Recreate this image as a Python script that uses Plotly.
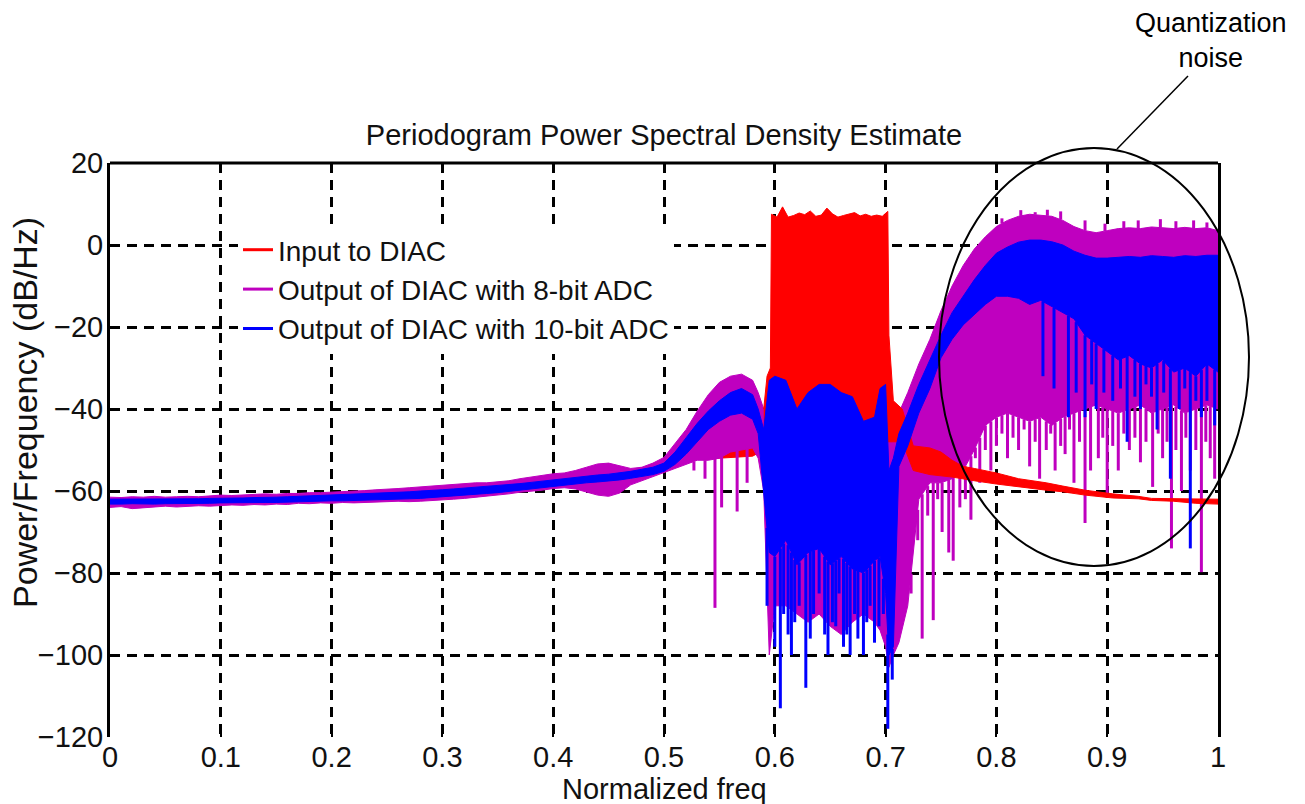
import numpy as np
import plotly.graph_objects as go

# ---------------- data ----------------
x_ticks = [0.0, 0.1, 0.2, 0.3, 0.4, 0.5, 0.6, 0.7, 0.8, 0.9, 1.0]
x_tick_labels = ["0", "0.1", "0.2", "0.3", "0.4", "0.5", "0.6", "0.7", "0.8", "0.9", "1"]
y_ticks = [20, 0, -20, -40, -60, -80, -100, -120]

# frequency grid shared by the two ADC outputs
freq_adc = [0.00, 0.01, 0.02, 0.03, 0.04, 0.05, 0.06, 0.07, 0.08, 0.09,
            0.10, 0.11, 0.12, 0.13, 0.14, 0.15, 0.16, 0.17, 0.18, 0.19,
            0.20, 0.21, 0.22, 0.23, 0.24, 0.25, 0.26, 0.27, 0.28, 0.29,
            0.30, 0.31, 0.32, 0.33, 0.34, 0.35, 0.36, 0.37, 0.38, 0.39,
            0.40, 0.41, 0.42, 0.43, 0.44, 0.45, 0.46, 0.47, 0.48, 0.49,
            0.50, 0.51, 0.52, 0.53, 0.54, 0.55, 0.56, 0.57, 0.58,
            0.585, 0.59, 0.595,
            0.60, 0.61, 0.62, 0.63, 0.64, 0.65, 0.66, 0.67, 0.68, 0.69,
            0.695, 0.70, 0.703, 0.707, 0.712,
            0.72, 0.73, 0.74, 0.75, 0.76, 0.77, 0.78, 0.79,
            0.80, 0.81, 0.82, 0.83, 0.84, 0.85, 0.86, 0.87, 0.88, 0.89,
            0.90, 0.91, 0.92, 0.93, 0.94, 0.95, 0.96, 0.97, 0.98, 0.99, 1.00]

# Output of DIAC with 10-bit ADC (blue): upper / lower envelope, dB/Hz
adc10_upper = [-62.0, -62.0, -62.0, -61.9, -62.0, -61.9, -61.9, -61.9, -61.9, -61.8,
               -61.8, -61.7, -61.7, -61.6, -61.6, -61.5, -61.4, -61.3, -61.2, -61.1,
               -61.0, -60.9, -60.8, -60.6, -60.5, -60.4, -60.3, -60.2, -60.0, -59.9,
               -59.7, -59.5, -59.3, -59.1, -58.9, -58.7, -58.5, -58.2, -57.9, -57.6,
               -57.2, -56.9, -56.6, -56.3, -56.1, -55.9, -55.6, -55.2, -54.7, -54.2,
               -53.2, -50.5, -47.0, -43.5, -40.5, -38.0, -36.0, -35.0, -36.5,
               -40.0, -45.0, -33.0,
               -32.0, -33.0, -40.0, -36.0, -34.0, -34.0, -36.0, -37.0, -43.0, -42.0,
               -35.0, -34.0, -55.0, -52.0, -46.0,
               -41.0, -34.0, -28.0, -22.0, -16.5, -12.5, -8.5, -5.0,
               -2.0, -0.5, 0.7, 1.2, 1.2, 0.8, 0.0, -1.5, -2.5, -3.2,
               -3.2, -3.0, -2.8, -3.0, -2.6, -2.8, -3.0, -2.6, -2.8, -2.5, -2.5]
adc10_lower = [-63.2, -63.2, -63.1, -63.1, -63.2, -63.1, -63.0, -63.1, -63.0, -63.0,
               -62.9, -62.9, -62.9, -62.8, -62.8, -62.8, -62.7, -62.6, -62.6, -62.5,
               -62.4, -62.4, -62.3, -62.2, -62.1, -62.0, -62.0, -61.9, -61.8, -61.7,
               -61.5, -61.2, -61.0, -60.8, -60.6, -60.4, -60.2, -59.9, -59.6, -59.3,
               -58.9, -58.6, -58.3, -58.0, -57.8, -57.6, -57.3, -56.9, -56.5, -56.0,
               -55.2, -53.5, -51.0, -48.0, -45.0, -43.0, -41.5, -41.0, -42.5,
               -46.0, -60.0, -75.0,
               -76.0, -72.0, -78.0, -75.0, -74.0, -78.0, -76.0, -79.0, -80.0, -77.0,
               -76.0, -85.0, -100.0, -98.0, -54.0,
               -49.0, -41.0, -35.0, -27.5, -23.0, -19.5, -17.0, -14.5,
               -12.5, -12.5, -13.0, -14.5, -13.5, -15.0, -16.5, -18.0, -22.0, -24.0,
               -26.0, -28.0, -27.0, -29.0, -30.0, -28.0, -31.0, -30.0, -32.0, -29.0, -31.0]

# Output of DIAC with 8-bit ADC (magenta): upper / lower envelope, dB/Hz
adc8_upper = [-61.5, -61.6, -61.4, -61.5, -61.3, -61.5, -61.4, -61.3, -61.4, -61.2,
              -61.0, -61.1, -61.0, -60.8, -60.7, -60.8, -60.6, -60.6, -60.4, -60.4,
              -60.3, -60.2, -60.0, -59.9, -59.7, -59.6, -59.4, -59.2, -59.0, -58.8,
              -58.6, -58.3, -58.2, -58.0, -58.0, -57.8, -57.5, -57.0, -56.6, -56.2,
              -55.8, -55.6, -55.0, -54.2, -53.4, -53.2, -53.8, -54.5, -54.2, -53.2,
              -51.8, -48.5, -45.0, -40.5, -36.5, -33.5, -32.0, -31.5, -33.0,
              -36.0, -40.0, -46.0,
              -48.0, -47.0, -46.0, -48.0, -50.0, -50.0, -49.0, -47.0, -46.0, -48.0,
              -47.0, -45.0, -47.0, -44.0, -41.0,
              -36.0, -29.0, -23.0, -16.0, -10.0, -5.0, -1.0, 2.0,
              4.5, 6.0, 7.0, 7.5, 7.3, 7.0, 6.0, 4.5, 3.5, 3.0,
              3.5, 4.0, 4.2, 4.0, 4.4, 4.2, 4.0, 4.3, 4.0, 4.2, 3.5]
adc8_lower = [-64.0, -63.8, -64.3, -64.0, -63.9, -63.7, -63.9, -63.8, -63.6, -63.7,
              -63.6, -63.4, -63.5, -63.3, -63.4, -63.2, -63.3, -63.0, -63.1, -62.9,
              -63.0, -62.8, -62.9, -62.7, -62.7, -62.6, -62.5, -62.6, -62.5, -62.4,
              -62.2, -62.0, -61.8, -61.5, -61.2, -61.0, -60.7, -60.3, -60.0, -59.8,
              -59.4, -59.2, -59.5, -60.2, -61.0, -61.3, -60.5, -58.5, -57.5, -56.5,
              -55.6, -54.5, -53.5, -52.5, -52.5, -52.0, -50.5, -50.0, -49.5,
              -52.0, -60.0, -100.0,
              -88.0, -88.0, -90.0, -92.0, -90.0, -93.0, -95.0, -92.0, -90.0, -92.0,
              -94.0, -98.0, -103.0, -100.0, -97.0,
              -88.0, -62.0, -58.0, -58.0, -57.0, -55.0, -50.0, -44.0,
              -42.0, -41.0, -42.0, -43.0, -42.0, -44.0, -42.0, -41.0, -40.0, -39.0,
              -40.0, -41.0, -40.0, -39.0, -41.0, -40.0, -39.0, -41.0, -40.0, -39.0, -40.0]

# Input to DIAC (red)
freq_in = [0.00, 0.10, 0.20, 0.30, 0.35, 0.38, 0.39, 0.40, 0.45, 0.47,
           0.48, 0.49, 0.50, 0.52, 0.55, 0.58, 0.59, 0.593, 0.596,
           0.597, 0.602, 0.607, 0.612, 0.617, 0.622, 0.627, 0.632, 0.637, 0.642,
           0.647, 0.652, 0.657, 0.662, 0.667, 0.672, 0.677, 0.682, 0.687, 0.692,
           0.697, 0.702,
           0.703, 0.707, 0.715, 0.725, 0.74, 0.75, 0.76, 0.77, 0.78, 0.80,
           0.82, 0.845, 0.86, 0.88, 0.905, 0.928, 0.94, 0.96, 0.98, 1.00]
input_upper = [-62.2, -61.9, -61.1, -59.9, -58.8, -58.0, -56.8, -57.6, -56.2, -55.4,
               -54.3, -54.6, -52.5, -50.5, -49.3, -49.0, -40.0, -32.0, -30.0,
               7.5, 6.8, 9.3, 6.8, 7.2, 7.8, 7.4, 8.3, 7.0, 7.3,
               9.0, 7.6, 6.8, 7.2, 7.6, 7.9, 7.1, 7.5, 7.0, 7.3,
               7.0, 8.2,
               -22.0, -38.0, -40.0, -49.0, -49.5, -50.5, -52.5, -54.0, -54.5, -55.6,
               -57.0, -58.0, -58.8, -59.8, -60.7, -61.3, -61.8, -61.9, -62.0, -62.0]
input_lower = [-63.0, -62.7, -62.0, -60.7, -59.6, -58.8, -58.2, -58.4, -57.0, -56.2,
               -55.4, -55.6, -53.6, -52.0, -52.0, -51.5, -50.0, -49.0, -48.0,
               -46.0, -44.0, -45.0, -47.0, -44.0, -45.0, -46.0, -44.0, -47.0, -45.0,
               -44.0, -46.0, -45.0, -47.0, -44.0, -46.0, -45.0, -47.0, -44.0, -46.0,
               -45.0, -48.0,
               -48.0, -48.0, -48.0, -55.0, -56.0, -56.3, -56.6, -57.0, -57.5, -58.3,
               -59.0, -59.8, -60.2, -61.0, -61.7, -61.9, -62.3, -62.5, -63.0, -63.2]

# isolated deep dips (spikes) below the envelopes
adc10_dip_freq = [0.593, 0.600, 0.605, 0.608, 0.612, 0.615, 0.618, 0.622, 0.628, 0.632,
                  0.635, 0.640, 0.645, 0.648, 0.652, 0.655, 0.658, 0.662, 0.665, 0.668,
                  0.672, 0.675, 0.680, 0.683, 0.686, 0.690, 0.694, 0.698, 0.702, 0.706,
                  0.842, 0.852, 0.865, 0.872, 0.880, 0.886, 0.890, 0.897, 0.905, 0.912,
                  0.918, 0.925, 0.930, 0.935, 0.940, 0.945, 0.951, 0.957, 0.965, 0.970,
                  0.975, 0.980, 0.985, 0.990, 0.997]
adc10_dip_db = [-88, -98, -113, -90, -95, -100, -92, -88, -108, -96,
                -90, -85, -95, -100, -92, -93, -85, -98, -95, -100,
                -90, -96, -100, -92, -88, -97, -93, -90, -118, -106,
                -32, -35, -42, -36, -42, -34, -40, -36, -38, -35,
                -48, -37, -40, -34, -37, -45, -36, -57, -40, -35,
                -74, -38, -42, -38, -44]

adc8_dip_freq = [0.527, 0.537, 0.546, 0.552, 0.566, 0.575, 0.723, 0.729, 0.733, 0.738,
                 0.743, 0.747, 0.751, 0.757, 0.761, 0.767, 0.772, 0.777, 0.781, 0.785,
                 0.790, 0.795, 0.800, 0.805, 0.810, 0.815, 0.820, 0.825, 0.830, 0.835,
                 0.839, 0.845, 0.849, 0.853, 0.858, 0.862, 0.866, 0.870, 0.875, 0.880,
                 0.885, 0.892, 0.896, 0.900, 0.905, 0.910, 0.915, 0.920, 0.925, 0.930,
                 0.935, 0.941, 0.946, 0.950, 0.954, 0.958, 0.962, 0.967, 0.971, 0.975,
                 0.980, 0.985, 0.989, 0.993, 0.997]
adc8_dip_db = [-55, -57, -88.5, -64, -65, -58, -85, -72, -96, -66,
               -91.5, -62, -70, -75, -77, -64, -62, -67, -52, -58,
               -50, -55, -49, -46, -52, -47, -50, -45, -54, -48,
               -57, -50, -46, -55, -49, -51, -45, -58, -48, -67.8,
               -55, -52, -47, -61.7, -49, -55, -46, -50, -47, -53,
               -48, -59, -46, -52, -48, -74, -50, -60, -47, -55,
               -50, -79.8, -48, -52, -57]

adc8_peak_freq = [0.805, 0.822, 0.835, 0.846, 0.858, 0.880, 0.898, 0.915, 0.928, 0.948,
                  0.962, 0.978, 0.990]
adc8_peak_db = [6.5, 8.5, 8.0, 8.6, 8.2, 6.0, 5.2, 5.8, 6.0, 6.3, 5.8, 6.0, 5.5]

series_names = ["Input to DIAC", "Output of DIAC with 8-bit ADC", "Output of DIAC with 10-bit ADC"]

# ---------------- styling ----------------
RED = "#FF0000"
MAG = "#BF00BF"
BLUE = "#0000FF"
FONT = "Liberation Sans, Arial, sans-serif"
TXT = "#111111"


def band(freq, upper, lower, color):
    xs = list(freq) + list(freq)[::-1]
    ys = list(upper) + list(lower)[::-1]
    return go.Scatter(x=xs, y=ys, mode="lines", fill="toself", fillcolor=color,
                      line=dict(color=color, width=1), showlegend=False,
                      hoverinfo="skip")


def spikes(freq, env_freq, env, tips, color, width):
    base = np.interp(freq, env_freq, env)
    xs, ys = [], []
    for f, b, t in zip(freq, base, tips):
        xs += [f, f, None]
        ys += [float(b), t, None]
    return go.Scatter(x=xs, y=ys, mode="lines", line=dict(color=color, width=width),
                      showlegend=False, hoverinfo="skip")


# the low-level part of the input (below 0.59) lies underneath the ADC outputs
split = next(i for i, f in enumerate(freq_in) if f >= 0.59) + 1

fig = go.Figure()
fig.add_trace(band(freq_in[:split], input_upper[:split], input_lower[:split], RED))
fig.add_trace(band(freq_adc, adc8_upper, adc8_lower, MAG))
fig.add_trace(spikes(adc8_dip_freq, freq_adc, adc8_lower, adc8_dip_db, MAG, 3))
fig.add_trace(spikes(adc8_peak_freq, freq_adc, adc8_upper, adc8_peak_db, MAG, 3))
fig.add_trace(band(freq_in[split - 1:], input_upper[split - 1:], input_lower[split - 1:], RED))
fig.add_trace(band(freq_adc, adc10_upper, adc10_lower, BLUE))
fig.add_trace(spikes(adc10_dip_freq, freq_adc, adc10_lower, adc10_dip_db, BLUE, 3))

for name, color in zip(series_names, [RED, MAG, BLUE]):
    fig.add_trace(go.Scatter(x=[None], y=[None], mode="lines", name=name,
                             line=dict(color=color, width=3)))

# plot area in pixels: left 110, right 1218, top 163, bottom 737
L, R, T, B = 110, 1218, 163, 737
W, H = R - L, B - T


def px(xp):
    return (xp - L) / W


def py(yp):
    return (B - yp) / H


axis_common = dict(showgrid=True, gridcolor="black", gridwidth=2.5, griddash="10px,7px",
                   zeroline=False, ticks="inside", ticklen=8, tickwidth=2,
                   tickcolor="black", tickfont=dict(family=FONT, size=29, color=TXT))

fig.update_xaxes(range=[0, 1], tickvals=x_ticks, ticktext=x_tick_labels,
                 showline=False, **axis_common)
fig.update_yaxes(range=[-120, 20], tickvals=y_ticks, showline=True, mirror=True,
                 linecolor="black", linewidth=3, ticklabelstandoff=-2, **axis_common)

fig.update_layout(
    width=1305, height=804,
    margin=dict(l=L, r=1305 - R, t=T, b=804 - B),
    paper_bgcolor="white", plot_bgcolor="white",
    font=dict(family=FONT, size=29, color=TXT),
    title=dict(text="Periodogram Power Spectral Density Estimate", x=0.5, xref="paper",
               xanchor="center", y=1 - 135 / 804, yref="container", yanchor="middle",
               font=dict(family=FONT, size=29, color=TXT)),
    showlegend=True,
    legend=dict(x=px(238), y=py(225), xanchor="left", yanchor="top",
                bgcolor="white", borderwidth=0, tracegroupgap=0,
                font=dict(family=FONT, size=28, color=TXT)),
    shapes=[
        dict(type="line", xref="paper", yref="paper", x0=0, x1=1, y0=1, y1=1,
             line=dict(color="black", width=3)),
        dict(type="circle", xref="paper", yref="paper", x0=px(939), x1=px(1249),
             y0=py(566), y1=py(148), line=dict(color="black", width=2)),
        dict(type="line", xref="paper", yref="paper", x0=px(1117), y0=py(149),
             x1=px(1188), y1=py(76), line=dict(color="black", width=1.5)),
    ],
    annotations=[
        dict(text="Normalized freq", xref="paper", yref="paper", x=0.5, y=py(789),
             xanchor="center", yanchor="middle", showarrow=False,
             font=dict(family=FONT, size=29, color=TXT)),
        dict(text="Power/Frequency (dB/Hz)", xref="paper", yref="paper", x=px(25),
             y=py(413), xanchor="center", yanchor="middle", textangle=-90,
             showarrow=False, font=dict(family=FONT, size=34, color=TXT)),
        dict(text="Quantization<br>noise", xref="paper", yref="paper", x=px(1211),
             y=py(40), xanchor="center", yanchor="middle", showarrow=False,
             font=dict(family="Liberation Sans, Arial, sans-serif", size=27, color="black")),
    ],
)

fig.write_html("out.html")
